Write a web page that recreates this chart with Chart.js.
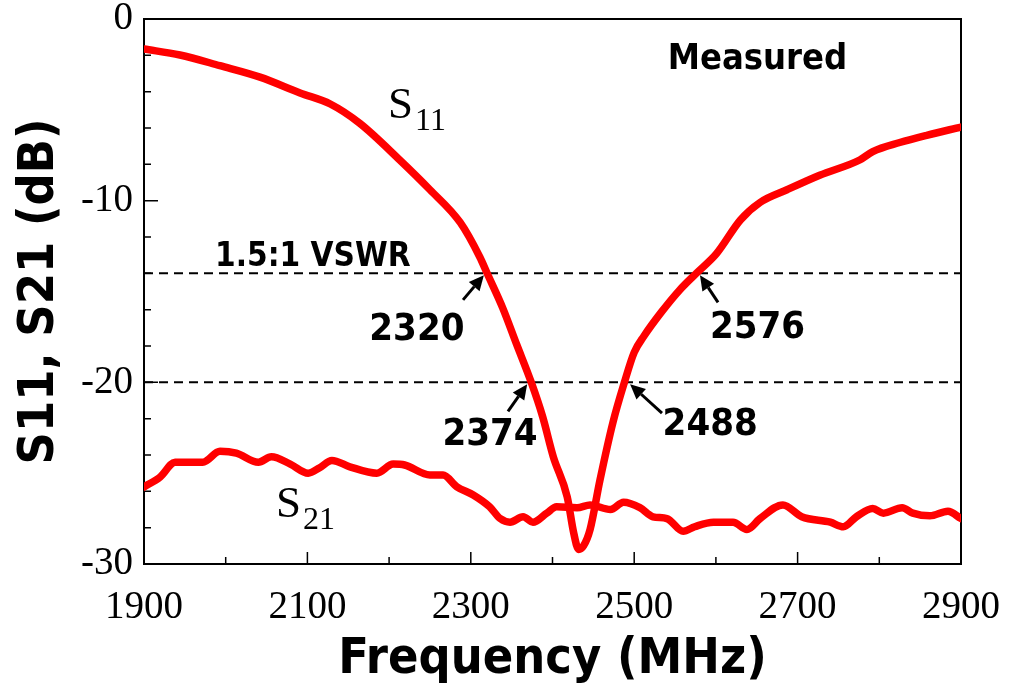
<!DOCTYPE html>
<html>
<head>
<meta charset="utf-8">
<script src="https://cdn.jsdelivr.net/npm/chart.js@4.4.0/dist/chart.umd.min.js"></script>
<style>
  html, body { margin: 0; padding: 0; background: #fff; }
  #wrap { width: 1017px; height: 699px; position: relative; }
</style>
</head>
<body>
<div id="wrap"><canvas id="sparams"></canvas></div>
<script>
// S11 (MHz, dB)
const s11Freq = [1900, 1944, 1993, 2042, 2091, 2128, 2164, 2213, 2250, 2287, 2311, 2320, 2339, 2356, 2374,
  2388, 2401, 2418, 2426, 2432, 2438, 2446, 2458, 2474, 2488, 2500, 2512, 2533, 2556, 2576,
  2601, 2630, 2654, 2687, 2727, 2776, 2792, 2825, 2858, 2900];
const s11Db = [-1.65, -1.98, -2.57, -3.2, -4.07, -4.68, -5.74, -7.76, -9.4, -11.2, -13.1, -14.0, -15.9, -17.9, -20.0,
  -21.9, -24.1, -26.3, -28.3, -29.2, -29.0, -28.1, -25.4, -22.2, -20.0, -18.35, -17.45, -16.15, -14.9, -14.0,
  -12.9, -11.06, -10.1, -9.4, -8.6, -7.76, -7.3, -6.8, -6.4, -5.95];

// S21
const s21Freq = [1900, 1920, 1938, 1972, 1993, 2013, 2040, 2056, 2079, 2101, 2115, 2130, 2152, 2185, 2205,
  2219, 2250, 2266, 2283, 2303, 2323, 2336, 2348, 2364, 2376, 2393, 2405, 2430, 2446, 2471,
  2487, 2507, 2523, 2540, 2560, 2574, 2597, 2621, 2638, 2654, 2682, 2705, 2740, 2756, 2772,
  2792, 2805, 2828, 2841, 2862, 2884, 2900];
const s21Db = [-25.76, -25.2, -24.4, -24.4, -23.8, -23.9, -24.4, -24.1, -24.5, -25.0, -24.7, -24.3, -24.65, -25.0, -24.5,
  -24.55, -25.1, -25.1, -25.75, -26.2, -26.85, -27.5, -27.7, -27.4, -27.7, -27.2, -26.85, -26.9, -26.75, -27.0,
  -26.6, -26.9, -27.4, -27.5, -28.2, -27.95, -27.7, -27.7, -28.1, -27.5, -26.75, -27.4, -27.7, -27.95, -27.4,
  -26.95, -27.2, -26.9, -27.2, -27.35, -27.1, -27.5];

const vswrLevels = [-14, -20];
const bandEdges = ['2320', '2374', '2488', '2576'];

const xTickValues = [1900, 2100, 2300, 2500, 2700, 2900];
const xMinorTicks = [2000, 2200, 2400, 2600, 2800];
const yTickValues = [0, -10, -20, -30];
const yMinorTicks = [-2, -4, -6, -8, -12, -14, -16, -18, -22, -24, -26, -28];

const boldFont = '"DejaVu Sans Condensed", "DejaVu Sans", sans-serif';
const serifFont = '"Liberation Serif", "DejaVu Serif", serif';

const toPoints = (xs, ys) => xs.map((x, i) => ({ x: x, y: ys[i] }));

// label anchors in data units: text centre x / baseline y, arrow tail -> head
const edgeNotes = [
  { f: 2234, db: -17.67, tail: [2290.5, -15.46], head: [2316, -14.1] },
  { f: 2323.5, db: -23.45, tail: [2345.5, -21.6], head: [2369, -20.1] },
  { f: 2593, db: -22.9, tail: [2534, -21.7], head: [2495, -20.1] },
  { f: 2651, db: -17.56, tail: [2602.6, -15.6], head: [2580.5, -14.1] }
];

const frame = {
  id: 'frame',
  beforeDatasetsDraw(chart) {
    const { ctx, chartArea: a, scales: { x, y } } = chart;
    ctx.save();
    ctx.strokeStyle = '#000';
    ctx.lineWidth = 1.5;
    ctx.beginPath();
    xTickValues.forEach(v => { const p = x.getPixelForValue(v); ctx.moveTo(p, a.bottom); ctx.lineTo(p, a.bottom - 12); });
    xMinorTicks.forEach(v => { const p = x.getPixelForValue(v); ctx.moveTo(p, a.bottom); ctx.lineTo(p, a.bottom - 7); });
    yTickValues.forEach(v => { const p = y.getPixelForValue(v); ctx.moveTo(a.left, p); ctx.lineTo(a.left + 14, p); });
    yMinorTicks.forEach(v => { const p = y.getPixelForValue(v); ctx.moveTo(a.left, p); ctx.lineTo(a.left + 7, p); });
    ctx.stroke();
    ctx.lineWidth = 2;
    ctx.beginPath();
    ctx.moveTo(a.left, a.top);
    ctx.lineTo(a.right, a.top);
    ctx.lineTo(a.right, a.bottom);
    ctx.stroke();
    ctx.restore();
  }
};

function arrow(ctx, x0, y0, x1, y1) {
  const ang = Math.atan2(y1 - y0, x1 - x0);
  const len = 15, half = 7;
  const bx = x1 - len * Math.cos(ang), by = y1 - len * Math.sin(ang);
  ctx.beginPath();
  ctx.moveTo(x0, y0);
  ctx.lineTo(bx, by);
  ctx.stroke();
  ctx.beginPath();
  ctx.moveTo(x1, y1);
  ctx.lineTo(bx + half * Math.sin(ang), by - half * Math.cos(ang));
  ctx.lineTo(bx - half * Math.sin(ang), by + half * Math.cos(ang));
  ctx.closePath();
  ctx.fill();
}

function subLabel(ctx, main, sub, x, y) {
  ctx.font = '45px ' + serifFont;
  ctx.textAlign = 'left';
  ctx.fillText(main, x, y);
  const w = ctx.measureText(main).width;
  ctx.font = '32px ' + serifFont;
  ctx.fillText(sub, x + w + 2, y + 12);
}

const notes = {
  id: 'notes',
  afterDatasetsDraw(chart) {
    const { ctx, scales: { x, y } } = chart;
    const X = v => x.getPixelForValue(v), Y = v => y.getPixelForValue(v);
    ctx.save();
    ctx.fillStyle = '#000';
    ctx.strokeStyle = '#000';
    ctx.textBaseline = 'alphabetic';

    ctx.font = 'bold 36px ' + boldFont;
    ctx.textAlign = 'left';
    ctx.fillText('Measured', X(2541), Y(-2.75));

    ctx.font = 'bold 33px ' + boldFont;
    ctx.fillText('1.5:1 VSWR', X(1987), Y(-13.6));

    ctx.font = 'bold 38px ' + boldFont;
    ctx.textAlign = 'center';
    ctx.lineWidth = 3;
    edgeNotes.forEach((n, i) => {
      ctx.fillText(bandEdges[i], X(n.f), Y(n.db));
      arrow(ctx, X(n.tail[0]), Y(n.tail[1]), X(n.head[0]), Y(n.head[1]));
    });

    subLabel(ctx, 'S', '11', X(2198.7), Y(-5.45));
    subLabel(ctx, 'S', '21', X(2061.6), Y(-27.4));
    ctx.restore();
  }
};

const dashed = vswrLevels.map(v => ({
  data: [{ x: 1900, y: v }, { x: 2900, y: v }],
  borderColor: '#000',
  borderWidth: 2,
  borderDash: [9, 6],
  pointRadius: 0
}));

const redLine = {
  borderColor: '#ff0000',
  borderWidth: 7.5,
  pointRadius: 0,
  cubicInterpolationMode: 'monotone',
  borderJoinStyle: 'round',
  borderCapStyle: 'round'
};

new Chart(document.getElementById('sparams'), {
  type: 'line',
  data: {
    datasets: [
      { label: 'S21', data: toPoints(s21Freq, s21Db), ...redLine },
      { label: 'S11', data: toPoints(s11Freq, s11Db), ...redLine },
      ...dashed
    ]
  },
  options: {
    responsive: true,
    maintainAspectRatio: false,
    animation: false,
    layout: { padding: { top: 19, right: 56, left: 0, bottom: 0 } },
    plugins: {
      legend: { display: false },
      tooltip: { enabled: false }
    },
    scales: {
      x: {
        type: 'linear',
        min: 1900,
        max: 2900,
        afterBuildTicks: s => { s.ticks = xTickValues.map(v => ({ value: v })); },
        afterFit: s => { s.height = 135; s.paddingLeft = 0; s.paddingRight = 0; },
        grid: { display: false, drawTicks: false },
        border: { display: true, color: '#000', width: 2 },
        ticks: {
          padding: 26,
          color: '#000',
          maxRotation: 0,
          callback: v => String(v),
          font: { family: serifFont, size: 39, lineHeight: 0.9 }
        },
        title: {
          display: true,
          text: 'Frequency (MHz)',
          color: '#000',
          padding: { top: 0, bottom: 14 },
          font: { family: boldFont, size: 50, weight: 'bold', lineHeight: 1 }
        }
      },
      y: {
        min: -30,
        max: 0,
        afterBuildTicks: s => { s.ticks = yTickValues.map(v => ({ value: v })); },
        afterFit: s => { s.width = 144; s.paddingTop = 0; s.paddingBottom = 0; },
        grid: { display: false, drawTicks: false },
        border: { display: true, color: '#000', width: 2 },
        ticks: {
          padding: 11,
          color: '#000',
          callback: v => String(v),
          font: { family: serifFont, size: 39, lineHeight: 0.9 }
        },
        title: {
          display: true,
          text: 'S11, S21 (dB)',
          color: '#000',
          padding: { top: 15, bottom: 0 },
          font: { family: boldFont, size: 50, weight: 'bold', lineHeight: 1 }
        }
      }
    }
  },
  plugins: [frame, notes]
});
</script>
</body>
</html>
